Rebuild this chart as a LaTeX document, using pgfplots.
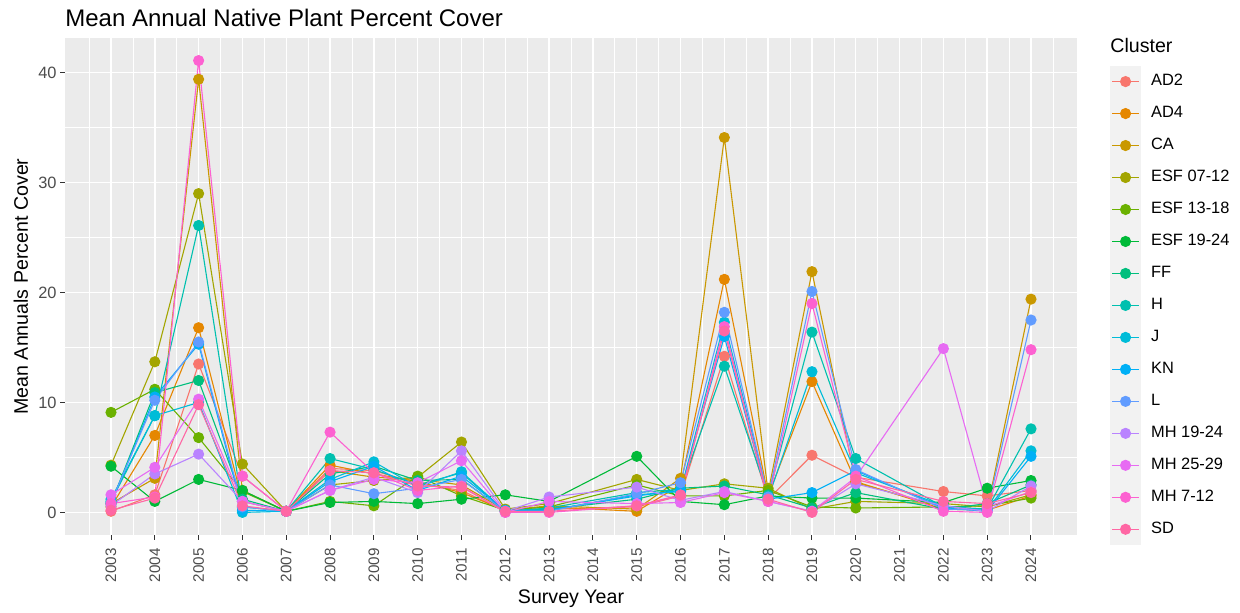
\documentclass[border=0pt]{standalone}
\usepackage{pgfplots}
\pgfplotsset{compat=1.18}
\usepackage{pgfplotstable}
\usepackage{fontspec}
\setmainfont{Liberation Sans}

\definecolor{panelbg}{HTML}{EBEBEB}
\definecolor{keybg}{HTML}{F2F2F2}
\definecolor{cAD2}{HTML}{F8766D}
\definecolor{cAD4}{HTML}{E58700}
\definecolor{cCA}{HTML}{C99800}
\definecolor{cESFa}{HTML}{A3A500}
\definecolor{cESFb}{HTML}{6BB100}
\definecolor{cESFc}{HTML}{00BA38}
\definecolor{cFF}{HTML}{00BF7D}
\definecolor{cH}{HTML}{00C0AF}
\definecolor{cJ}{HTML}{00BCD8}
\definecolor{cKN}{HTML}{00B0F6}
\definecolor{cL}{HTML}{619CFF}
\definecolor{cMHa}{HTML}{B983FF}
\definecolor{cMHb}{HTML}{E76BF3}
\definecolor{cMHc}{HTML}{FD61D1}
\definecolor{cSD}{HTML}{FF67A4}

\pgfplotstableread{
year AD2 AD4 CA ESFa ESFb ESFc FF H J KN L MHa MHb MHc SD
2003 0.1 0.5 0.8 4.3 9.1 4.2 0.8 1.0 1.2 0.8 0.9 0.6 1.6 0.8 0.2
2004 1.6 7.0 3.1 13.7 11.2 1.0 10.9 8.8 8.8 10.5 10.2 3.5 4.1 1.4 1.3
2005 13.5 16.8 39.4 29.0 6.8 3.0 12.0 26.1 10.0 15.3 15.5 5.3 10.3 41.1 9.8
2006 3.3 1.0 2.0 4.4 1.9 2.0 1.2 0.5 0.0 0.2 0.5 1.0 1.0 3.3 0.6
2007 0.1 0.1 0.1 0.1 0.1 0.1 0.1 0.1 0.1 0.1 0.1 0.1 0.1 0.1 0.1
2008 4.0 4.3 3.8 2.5 1.0 0.9 3.5 4.9 3.0 2.8 2.5 2.0 2.0 7.3 3.8
2009 3.8 3.5 3.2 2.9 0.6 1.0 4.2 3.9 4.6 4.2 1.7 3.2 3.0 3.6 3.6
2010 2.6 2.8 3.0 3.2 3.3 0.8 2.9 2.5 2.3 2.0 2.2 1.8 2.7 2.0 2.4
2011 2.0 1.8 2.5 6.4 1.5 1.2 3.0 3.6 3.7 3.3 3.0 5.6 4.7 2.4 2.3
2012 0.1 0.2 0.2 0.3 0.2 1.6 0.1 0.1 0.1 0.2 0.1 0.1 0.0 0.0 0.1
2013 0.3 0.5 0.6 0.8 0.5 1.0 0.3 0.4 0.2 0.2 0.1 1.4 1.0 0.0 0.1
2015 0.5 0.1 0.3 3.0 2.5 5.1 1.2 1.8 1.6 1.5 1.7 2.3 0.8 0.6 0.6
2016 1.5 2.5 3.1 2.0 1.5 1.0 2.2 2.1 1.9 2.0 2.7 1.1 0.9 1.5 1.6
2017 14.2 21.2 34.1 2.6 1.5 0.7 2.4 13.3 17.3 16.0 18.2 1.9 1.8 16.9 16.5
2018 1.2 1.5 1.8 2.2 2.0 1.5 1.6 1.5 1.3 1.2 1.4 1.0 1.0 1.0 1.2
2019 5.2 11.9 21.9 0.3 0.5 1.3 0.4 16.4 12.8 1.8 20.1 0.1 0.1 19.0 0.0
2020 3.2 2.8 2.7 1.0 0.4 1.3 1.8 4.9 3.6 3.8 3.9 2.6 3.2 3.3 3.0
2022 1.9 0.3 0.5 0.8 0.5 0.9 0.3 0.5 0.6 0.4 0.3 0.6 14.9 0.1 1.0
2023 1.5 0.2 0.3 0.5 0.6 2.2 0.8 0.3 0.2 0.1 0.2 0.1 0.5 0.0 0.8
2024 2.0 1.5 19.4 1.6 1.3 2.9 2.5 7.6 5.6 5.1 17.5 2.4 1.9 14.8 1.8
}\data

\begin{document}
\begin{tikzpicture}
\useasboundingbox (-32.5pt,-39pt) rectangle (587.5pt,267.5pt);
\begin{axis}[
  name=ax, at={(0,0)}, anchor=south west,
  scale only axis, width=506pt, height=248.5pt,
  xmin=2001.95, xmax=2025.05, ymin=-2.055, ymax=43.155,
  xtick={2003,...,2024},
  minor xtick={2002.5,2003.5,...,2024.5},
  ytick={0,10,20,30,40},
  minor ytick={5,15,25,35},
  grid=both,
  major grid style={white, line width=0.7pt},
  minor grid style={white, line width=0.35pt},
  axis background/.style={fill=panelbg},
  axis line style={draw=none},
  tick pos=left,
  tick align=outside,
  major tick length=2.5pt, minor tick length=0pt,
  tick style={color=black!80, line width=0.5pt},
  /pgf/number format/assume math mode=true,
  xticklabel style={yshift=-4pt, rotate=90, anchor=east, inner sep=0pt, font=\fontsize{7.6}{9}\selectfont, color=black!70, /pgf/number format/1000 sep={}},
  yticklabel style={anchor=east, inner sep=0pt, xshift=-1.5pt, font=\fontsize{8.2}{9}\selectfont, color=black!70},
  xlabel={Survey Year},
  ylabel={Mean Annuals Percent Cover},
  xlabel style={font=\fontsize{9.8}{11}\selectfont, at={(axis description cs:0.5,-0.1388)}, anchor=base},
  ylabel style={font=\fontsize{9.8}{11}\selectfont, at={(axis description cs:-0.0366,0.5)}, anchor=base},
  every axis plot/.append style={line width=0.55pt, mark=*, mark size=2.5pt},
  legend style={at={(axis description cs:1.0326,0.9445)}, anchor=north west, draw=none, fill=none, inner sep=0pt, outer sep=0pt, row sep=0pt, column sep=5pt, font=\fontsize{8.2}{9}\selectfont, nodes={inner sep=0pt}},
  legend cell align=left,
  legend image code/.code={
    \fill[keybg] (0pt,-7.72pt) rectangle (15pt,7.72pt);
    \draw[mark repeat=2,mark phase=2,#1] plot coordinates {(0.8pt,0pt) (7.5pt,0pt) (14.2pt,0pt)};
  },
]
\addplot[color=cAD2] table[x=year,y=AD2]{\data};
\addlegendentry{AD2}
\addplot[color=cAD4] table[x=year,y=AD4]{\data};
\addlegendentry{AD4}
\addplot[color=cCA] table[x=year,y=CA]{\data};
\addlegendentry{CA}
\addplot[color=cESFa] table[x=year,y=ESFa]{\data};
\addlegendentry{ESF 07-12}
\addplot[color=cESFb] table[x=year,y=ESFb]{\data};
\addlegendentry{ESF 13-18}
\addplot[color=cESFc] table[x=year,y=ESFc]{\data};
\addlegendentry{ESF 19-24}
\addplot[color=cFF] table[x=year,y=FF]{\data};
\addlegendentry{FF}
\addplot[color=cH] table[x=year,y=H]{\data};
\addlegendentry{H}
\addplot[color=cJ] table[x=year,y=J]{\data};
\addlegendentry{J}
\addplot[color=cKN] table[x=year,y=KN]{\data};
\addlegendentry{KN}
\addplot[color=cL] table[x=year,y=L]{\data};
\addlegendentry{L}
\addplot[color=cMHa] table[x=year,y=MHa]{\data};
\addlegendentry{MH 19-24}
\addplot[color=cMHb] table[x=year,y=MHb]{\data};
\addlegendentry{MH 25-29}
\addplot[color=cMHc] table[x=year,y=MHc]{\data};
\addlegendentry{MH 7-12}
\addplot[color=cSD] table[x=year,y=SD]{\data};
\addlegendentry{SD}
\end{axis}
\node[anchor=base west, inner sep=0pt, font=\fontsize{12}{14}\selectfont] at ([yshift=5.7pt]ax.north west) {Mean Annual Native Plant Percent Cover};
\node[anchor=base west, inner sep=0pt, font=\fontsize{9.8}{11}\selectfont] at ([xshift=16.5pt,yshift=-7.5pt]ax.north east) {Cluster};
\end{tikzpicture}
\end{document}
